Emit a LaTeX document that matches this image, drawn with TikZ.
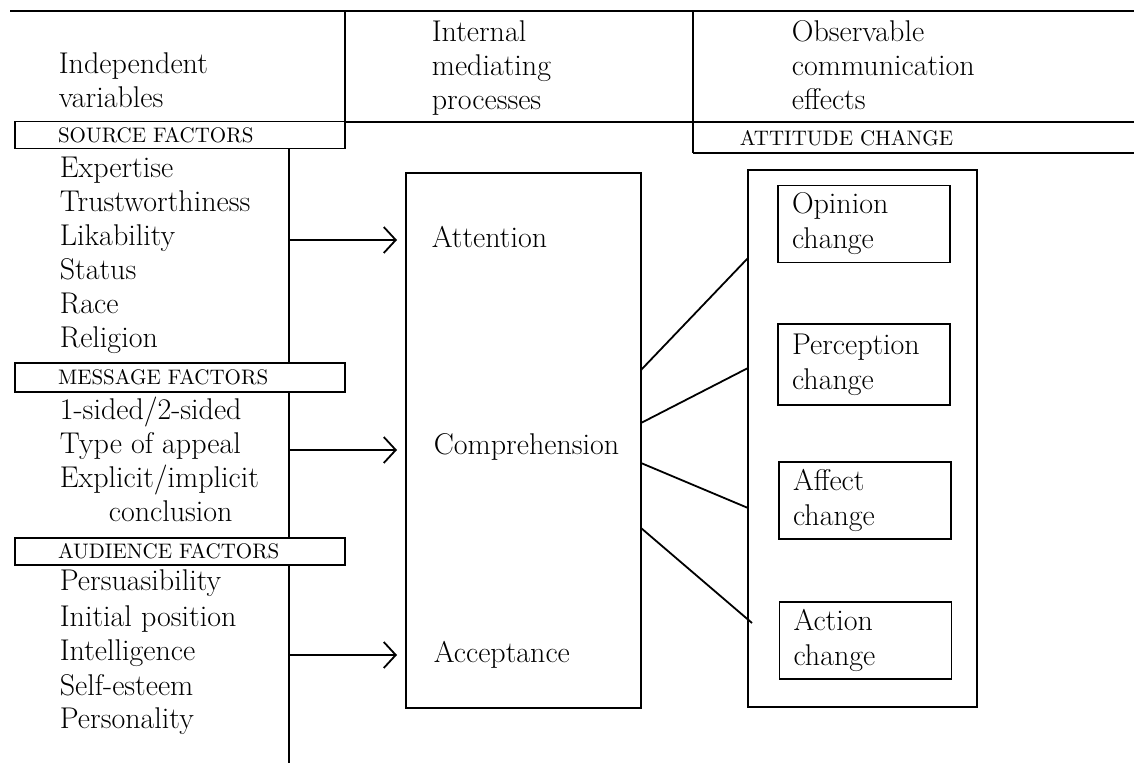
\documentclass[tikz,border=0pt]{standalone}
\usetikzlibrary{arrows.meta}

\begin{document}
\begin{tikzpicture}[x=0.5pt,y=0.5pt,yscale=-1,xscale=1,
	rule/.style={line width=0.9pt},
	item/.style={anchor=base west, inner sep=0.75pt, align=left, font=\fontsize{15}{17}\selectfont},
	factorbox/.style={draw, line width=0.9pt, minimum width=165pt, minimum height=13.5pt, text width=122pt, inner xsep=21.5pt, inner ysep=0pt, outer sep=0pt, align=left, font=\fontsize{10.5}{12}\selectfont},
	procbox/.style={draw, line width=0.9pt, inner sep=0pt, outer sep=0pt},
	changebox/.style={draw, line width=0.9pt, minimum width=86pt, minimum height=38.5pt, text width=72pt, inner xsep=7pt, inner ysep=0pt, outer sep=0pt, align=left, font=\fontsize{15}{17.5}\selectfont},
	flow/.style={line width=0.9pt, -{Straight Barb[length=6pt,width=13pt,line width=0.9pt]}, shorten >=4.5pt}]
		\path[use as bounding box] (0,0) rectangle (1134,763); % Same size as the scan

		% Draw the rules of the header table
		\draw[line width=1.3pt] (10,11) -- (1134,11);
		\draw[rule] (345,122) -- (1134,122);
		\draw[rule] (345,11) -- (345,122);
		\draw[rule] (693,11) -- (693,153);
		\draw[rule] (693,153) -- (1134,153);

		% The column headings (base = last line)
		\draw (57,108) node [item] (indep) {Independent\\variables};
		\draw (430,110) node [item] (internal) {Internal\\mediating\\processes};
		\draw (790,110) node [item] (observ) {Observable\\communication\\effects};
		\draw (738,138) node [item, anchor=west, font=\fontsize{10.5}{12}\selectfont] (attitude) {ATTITUDE CHANGE};

		% The boxes with the factor names
		\draw (180,135) node [factorbox] (srcfac) {SOURCE FACTORS};
		\draw (180,377.5) node [factorbox, minimum height=14.5pt] (msgfac) {MESSAGE FACTORS};
		\draw (180,551.5) node [factorbox] (audfac) {AUDIENCE FACTORS};

		% Source factors
		\draw (58,178) node [item] (expertise) {Expertise};
		\draw (58,212) node [item] (trust) {Trustworthiness};
		\draw (58,246) node [item] (likab) {Likability};
		\draw (58,280) node [item] (status) {Status};
		\draw (58,314) node [item] (race) {Race};
		\draw (58,348) node [item] (religion) {Religion};

		% Message factors
		\draw (58,420) node [item] (sided) {1-sided/2-sided};
		\draw (58,454) node [item] (appeal) {Type of appeal};
		\draw (58,488) node [item] (explicit) {Explicit/implicit};
		\draw (107,522) node [item] (conclusion) {conclusion};

		% Audience factors
		\draw (58,591) node [item] (persuas) {Persuasibility};
		\draw (58,626) node [item] (initial) {Initial position};
		\draw (58,661) node [item] (intellig) {Intelligence};
		\draw (58,695) node [item] (selfest) {Self-esteem};
		\draw (58,728) node [item] (personal) {Personality};

		% The vertical spine of the left column, broken at the factor boxes
		\coordinate (spine) at (289,0);
		\coordinate (spineend) at (289,763);
		\draw[rule] (srcfac.south -| spine) -- (msgfac.north -| spine);
		\draw[rule] (msgfac.south -| spine) -- (audfac.north -| spine);
		\draw[rule] (audfac.south -| spine) -- (spineend);

		% The box of the mediating processes
		\draw (523.5,440.5) node [procbox, minimum width=117.5pt, minimum height=267.5pt] (process) {};
		\draw (430,248) node [item] (attention) {Attention};
		\draw (432,455) node [item] (compreh) {Comprehension};
		\draw (432,662) node [item] (accept) {Acceptance};

		% Arrows from the spine into the process box
		\coordinate (srcout) at (289,240);
		\coordinate (msgout) at (289,450);
		\coordinate (audout) at (289,655);
		\draw[flow] (srcout) -- (srcout -| process.west);
		\draw[flow] (msgout) -- (msgout -| process.west);
		\draw[flow] (audout) -- (audout -| process.west);

		% The box of the attitude changes and the four inner boxes
		\draw (862.5,438.5) node [procbox, minimum width=114.5pt, minimum height=268.5pt] (effects) {};
		\draw (864,224) node [changebox] (opinion) {Opinion\\change};
		\draw (864,364.5) node [changebox, minimum height=40.5pt] (percept) {Perception\\change};
		\draw (865,500.5) node [changebox] (affect) {Affect\\change};
		\draw (865.5,640.5) node [changebox] (action) {Action\\change};

		% The four lines from the process box to the effects box
		\coordinate (p1) at (641,370);
		\coordinate (p2) at (641,423);
		\coordinate (p3) at (641,463);
		\coordinate (p4) at (641,528);
		\coordinate (e1) at (748,258);
		\coordinate (e2) at (748,368);
		\coordinate (e3) at (748,508);
		\coordinate (e4) at (752,623);
		\draw[rule] (p1) -- (e1);
		\draw[rule] (p2) -- (e2);
		\draw[rule] (p3) -- (e3);
		\draw[rule] (p4) -- (e4);
	\end{tikzpicture}
\end{document}
